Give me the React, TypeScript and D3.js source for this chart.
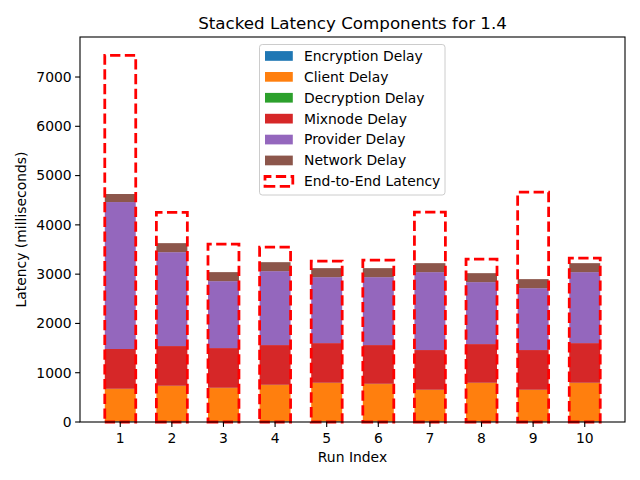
import React from "react";
import * as d3 from "d3";

const runs = [1, 2, 3, 4, 5, 6, 7, 8, 9, 10];
const encryption = [12, 11, 10, 11, 12, 11, 10, 12, 10, 11];
const client = [657, 719, 679, 739, 779, 759, 639, 779, 639, 780];
const decryption = [5, 5, 5, 5, 5, 5, 5, 5, 5, 5];
const mixnode = [807, 806, 806, 806, 805, 786, 806, 785, 806, 805];
const provider = [2982, 1905, 1358, 1500, 1338, 1378, 1581, 1257, 1256, 1440];
const network = [163, 183, 183, 182, 183, 183, 182, 182, 183, 182];
const endToEnd = [7440, 4255, 3608, 3547, 3264, 3284, 4257, 3304, 4663, 3325];
const seriesNames = [
  "Encryption Delay",
  "Client Delay",
  "Decryption Delay",
  "Mixnode Delay",
  "Provider Delay",
  "Network Delay",
];
const seriesColors = ["#1f77b4", "#ff7f0e", "#2ca02c", "#d62728", "#9467bd", "#8c564b"];
const yTicks = [0, 1000, 2000, 3000, 4000, 5000, 6000, 7000];

const W = 640, H = 480;
const L = 80, R = 625, T = 37, B = 422;
const FONT = "DejaVu Sans, sans-serif";
const DASH_W = 2.78;
const DASH = "10.3,4.45";

export default function App() {
  const series = [encryption, client, decryption, mixnode, provider, network];
  const barW = 0.6;
  const xmin = 1 - barW / 2, xmax = 10 + barW / 2;
  const xm = (xmax - xmin) * 0.05;
  const x = d3.scaleLinear().domain([xmin - xm, xmax + xm]).range([L, R]);
  const ymaxData = d3.max(runs.map((_, i) => Math.max(endToEnd[i], d3.sum(series.map((s) => s[i])))))!;
  const y = d3.scaleLinear().domain([0, ymaxData * 1.05]).range([B, T]);

  const rects: React.ReactNode[] = [];
  runs.forEach((r, i) => {
    let base = 0;
    series.forEach((s, k) => {
      const v = s[i];
      rects.push(
        <rect
          key={`b${i}-${k}`}
          x={x(r - barW / 2)}
          width={x(r + barW / 2) - x(r - barW / 2)}
          y={y(base + v)}
          height={y(base) - y(base + v)}
          fill={seriesColors[k]}
        />
      );
      base += v;
    });
  });

  const e2e = runs.map((r, i) => {
    const x0 = x(r - barW / 2), x1 = x(r + barW / 2);
    const y0 = y(0), y1 = y(endToEnd[i]);
    return (
      <path
        key={`e${i}`}
        d={`M${x0},${y0}L${x1},${y0}L${x1},${y1}L${x0},${y1}Z`}
        fill="none"
        stroke="#ff0000"
        strokeWidth={DASH_W}
        strokeDasharray={DASH}
      />
    );
  });

  const legX = 259.5, legY = 44.5, legW = 185.5, legH = 150.5;
  const rowH = 20.9;
  const legendItems = [...seriesNames, "End-to-End Latency"];

  return (
    <svg width={W} height={H} style={{ position: "absolute", left: 0, top: 0 }} fontFamily={FONT}>
      <rect x={0} y={0} width={W} height={H} fill="white" />
      {rects}
      {e2e}
      <rect x={L} y={T} width={R - L} height={B - T} fill="none" stroke="black" strokeWidth={1.1} />
      {yTicks.map((t) => (
        <g key={`yt${t}`}>
          <line x1={L - 4.9} x2={L} y1={y(t)} y2={y(t)} stroke="black" strokeWidth={1.1} />
          <text x={L - 8.3} y={y(t)} dy="0.35em" textAnchor="end" fontSize={13.9} fill="#000">
            {t}
          </text>
        </g>
      ))}
      {runs.map((r) => (
        <g key={`xt${r}`}>
          <line x1={x(r)} x2={x(r)} y1={B} y2={B + 4.9} stroke="black" strokeWidth={1.1} />
          <text x={x(r)} y={B + 20.5} textAnchor="middle" fontSize={13.9} fill="#000">
            {r}
          </text>
        </g>
      ))}
      <text x={(L + R) / 2} y={462} textAnchor="middle" fontSize={13.9}>Run Index</text>
      <text
        transform={`translate(26,${(T + B) / 2}) rotate(-90)`}
        textAnchor="middle"
        fontSize={13.9}
      >
        Latency (milliseconds)
      </text>
      <text x={(L + R) / 2} y={29} textAnchor="middle" fontSize={16.7}>
        Stacked Latency Components for 1.4
      </text>
      <g>
        <rect x={legX} y={legY} width={legW} height={legH} rx={2.8} fill="white" fillOpacity={0.8} stroke="#cccccc" strokeWidth={1} />
        {legendItems.map((name, k) => {
          const cy = legY + 11.5 + k * rowH;
          return (
            <g key={`lg${k}`}>
              {k < 6 ? (
                <rect x={265} y={cy - 4.9} width={27.8} height={9.7} fill={seriesColors[k]} />
              ) : (
                <path
                  d={`M265,${cy + 4.9}L292.8,${cy + 4.9}L292.8,${cy - 4.9}L265,${cy - 4.9}Z`}
                  fill="none"
                  stroke="#ff0000"
                  strokeWidth={DASH_W}
                  strokeDasharray={DASH}
                />
              )}
              <text x={304} y={cy} dy="0.35em" fontSize={13.9} fill="#000">
                {name}
              </text>
            </g>
          );
        })}
      </g>
    </svg>
  );
}
